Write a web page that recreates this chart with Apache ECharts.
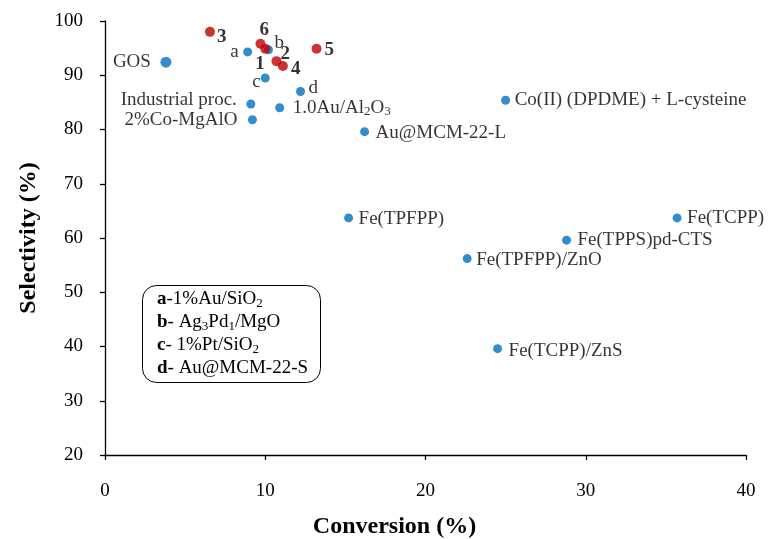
<!DOCTYPE html>
<html><head><meta charset="utf-8">
<script src="https://cdn.jsdelivr.net/npm/echarts@6/dist/echarts.min.js"></script>
<style>html,body{margin:0;padding:0;background:#fff}#c{width:768px;height:539px}</style>
</head><body><div id="c"></div>
<script>
// Blue (literature) points
const blueNames = ['GOS','a','b','c','d','Industrial proc.','2%Co-MgAlO','1.0Au/Al2O3','Au@MCM-22-L','Co(II) (DPDME) + L-cysteine','Fe(TPFPP)','Fe(TCPP)','Fe(TPPS)pd-CTS','Fe(TPFPP)/ZnO','Fe(TCPP)/ZnS'];
const blueConv  = [3.8, 8.9, 10.2, 10.0, 12.2, 9.1, 9.2, 10.9, 16.2, 25.0, 15.2, 35.7, 28.8, 22.6, 24.5];
const blueSel   = [92.4, 94.3, 94.7, 89.5, 87.0, 84.7, 81.8, 84.0, 79.6, 85.4, 63.7, 63.7, 59.6, 56.2, 39.6];
// Red (this work) points
const redNames = ['3','6','1','2','4','5'];
const redConv  = [6.55, 9.7, 10.0, 10.7, 11.1, 13.2];
const redSel   = [98.0, 95.8, 94.9, 92.6, 91.7, 94.9];
// Axis ticks
const xTicks = [0,10,20,30,40];
const yTicks = [20,30,40,50,60,70,80,90,100];
const refLine = 90;
// Legend key lines
const keyLines = [['a','-1%Au/SiO','2',''],['b','- Ag','3','Pd','1','/MgO'],['c','- 1%Pt/SiO','2',''],['d','- Au@MCM-22-S']];

const FONT = '"Liberation Serif","Times New Roman",serif';
const BLUE = '#0070C0', RED = '#C00000';

// label placement (style, not data): [align, dx, dy] from marker centre
const bluePos = [
  ['right',-15,0],['right',-9,0],['left',6,-7],['left',-13,4],['left',8,-4],
  ['right',-14,-4],['right',-15,0],['left',13,0],['left',11,1],['left',9,0],
  ['left',10,1],['left',10,0],['left',11,0],['left',9,1],['left',11,2]
];
const redPos = [
  ['left',7,5],['left',-1,-14],['left',-10,15],['left',4,-7],['left',8,3],['left',8,1]
];

function fmtName(n){
  if(n==='1.0Au/Al2O3') return '{n|1.0Au/Al}{s|2}{n|O}{s|3}';
  return '{n|'+n+'}';
}
const rich = {
  n:{fontFamily:FONT,fontSize:19,color:'#000',lineHeight:21},
  s:{fontFamily:FONT,fontSize:13,color:'#000',lineHeight:13,verticalAlign:'bottom'},
  b:{fontFamily:FONT,fontSize:19,color:'#000',fontWeight:'bold',lineHeight:21}
};

function lbl(fmt, p){
  return {show:true, formatter: fmt, rich, color:'#000', position:'inside', align:p[0], verticalAlign:'middle', offset:[p[1],p[2]]};
}
const blueData = blueConv.map((x,i)=>({
  value:[x, blueSel[i]], name: blueNames[i],
  symbolSize: i===0 ? 11 : 9,
  label: lbl(fmtName(blueNames[i]), bluePos[i])
}));
const redData = redConv.map((x,i)=>({
  value:[x, redSel[i]], name: redNames[i],
  label: lbl('{b|'+redNames[i]+'}', redPos[i])
}));

function keyText(parts){
  if(parts.length===2) return '{k|'+parts[0]+'}{n|'+parts[1]+'}';
  if(parts.length===4) return '{k|'+parts[0]+'}{n|'+parts[1]+'}{s|'+parts[2]+'}';
  return '{k|'+parts[0]+'}{n|'+parts[1]+'}{s|'+parts[2]+'}{n|'+parts[3]+'}{s|'+parts[4]+'}{n|'+parts[5]+'}';
}
const keyRich = {
  k:{font:'bold 19px '+FONT, fill:'#000', lineHeight:21},
  n:{font:'19px '+FONT, fill:'#000', lineHeight:21},
  s:{font:'13px '+FONT, fill:'#000', lineHeight:13, verticalAlign:'bottom'}
};

const chart = echarts.init(document.getElementById('c'), null, {renderer:'canvas'});
chart.setOption({
  backgroundColor:'#fff',
  animation:false,
  grid:{left:105, right:22, top:21, bottom:84, containLabel:false, outerBoundsMode:'none'},
  xAxis:{
    type:'value', min:xTicks[0], max:xTicks[xTicks.length-1], interval:10,
    name:'Conversion (%)', nameLocation:'middle', nameGap:60,
    nameTextStyle:{fontFamily:FONT,fontSize:24,fontWeight:'bold',color:'#000',padding:[0,62,0,0]},
    axisLine:{show:true,onZero:false,lineStyle:{color:'#000',width:1.3}},
    axisTick:{show:true,length:5,lineStyle:{color:'#000',width:1.3}},
    axisLabel:{fontFamily:FONT,fontSize:19,color:'#000',margin:27},
    splitLine:{show:false}
  },
  yAxis:{
    type:'value', min:yTicks[0], max:yTicks[yTicks.length-1], interval:10,
    name:'Selectivity (%)', nameLocation:'middle', nameGap:64, nameRotate:90,
    nameTextStyle:{fontFamily:FONT,fontSize:24,fontWeight:'bold',color:'#000'},
    axisLine:{show:true,onZero:false,lineStyle:{color:'#000',width:1.3}},
    axisTick:{show:true,length:5,lineStyle:{color:'#000',width:1.3}},
    axisLabel:{fontFamily:FONT,fontSize:19,color:'#000',margin:22},
    splitLine:{show:false}
  },
  series:[
    {type:'scatter', data:blueData, symbol:'circle', symbolSize:9, itemStyle:{color:BLUE}, z:3,
     markLine:{silent:true, symbol:'none', label:{show:false},
       lineStyle:{color:'#000',type:[3,2],width:1},
       data:[[{coord:[0,refLine]},{coord:[40.7,refLine]}]]}},
    {type:'scatter', data:redData, symbol:'circle', symbolSize:10, itemStyle:{color:RED}, z:4}
  ],
  graphic:[
    {type:'rect', left:142, top:285, shape:{width:178, height:97, r:14}, style:{fill:'#fff',stroke:'#000',lineWidth:1}, z:10},
  ].concat(keyLines.map((p,i)=>({
    type:'text', left:157, top:290+i*23, z:11,
    style:{text:keyText(p), rich:keyRich, font:'19px '+FONT, fill:'#000'}
  })))
});
</script></body></html>
